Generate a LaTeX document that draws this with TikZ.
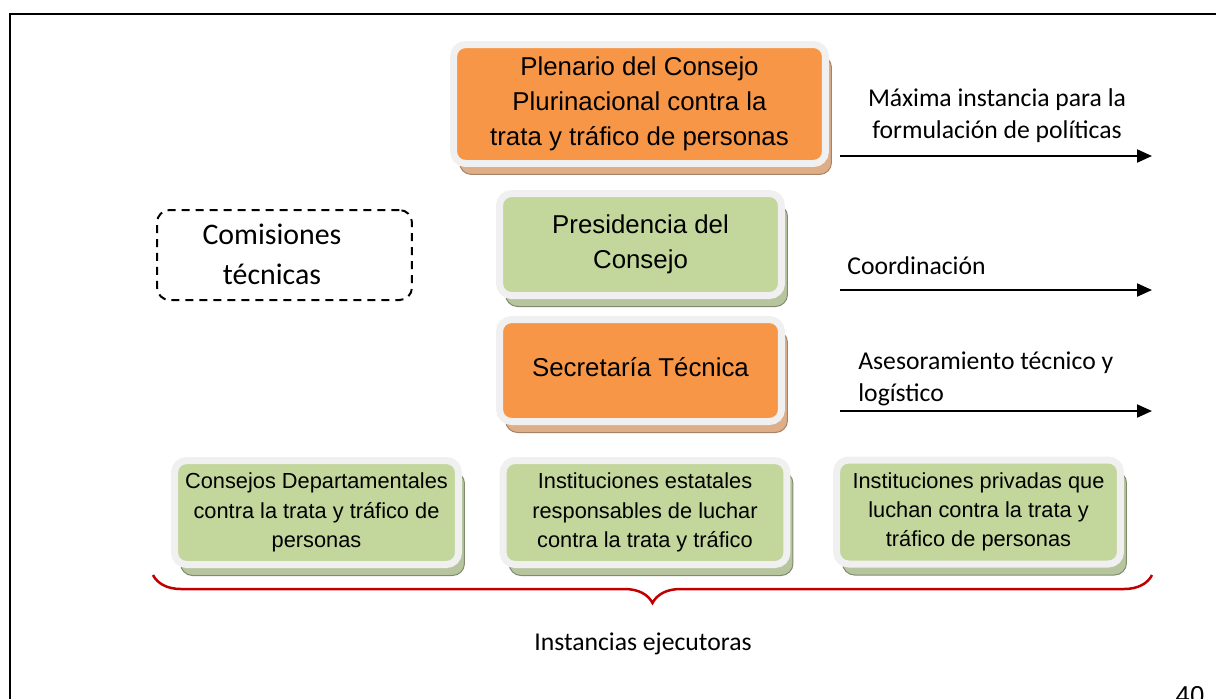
\documentclass[tikz,border=0pt]{standalone}
\usepackage{fontspec}
\setmainfont{Carlito}
\newfontfamily\arialfont{Liberation Sans}
\usetikzlibrary{shadows}
\usetikzlibrary{arrows.meta}
\usetikzlibrary{decorations.pathreplacing}

\definecolor{orangefill}{HTML}{F79646}
\definecolor{greenfill}{HTML}{C3D69B}
\definecolor{rimgray}{HTML}{F0F0F0}
\definecolor{orangeshade}{HTML}{DDAE88}
\definecolor{greenshade}{HTML}{B7C59E}
\definecolor{bracered}{HTML}{C00000}

\newcommand{\bigboxfont}{\arialfont\fontsize{14.7}{20}\selectfont}
\newcommand{\smallboxfont}{\arialfont\fontsize{12.4}{16.7}\selectfont}
\newcommand{\labelfont}{\fontsize{14.6}{18.1}\selectfont}

\tikzset{
    orgbox/.style={rectangle, rounded corners=0.24cm, draw=rimgray, line width=0.14cm, align=center, inner sep=0pt},
    orangebox/.style={orgbox, fill=orangefill, drop shadow={shadow xshift=0.12cm, shadow yshift=-0.22cm, opacity=1, fill=orangeshade, draw=orangeshade!75!black, line width=0.02cm}},
    greenbox/.style={orgbox, fill=greenfill, drop shadow={shadow xshift=0.12cm, shadow yshift=-0.22cm, opacity=1, fill=greenshade, draw=greenshade!70!black, line width=0.02cm}},
    bigbox/.style={minimum width=5.64cm, minimum height=2.04cm, font=\bigboxfont},
    smallbox/.style={minimum width=5.68cm, minimum height=2.08cm, font=\smallboxfont},
    lbl/.style={inner sep=0pt, font=\labelfont},
    arr/.style={line width=0.04cm, -{Triangle[length=0.3cm, width=0.26cm]}}
}

\begin{document}
\begin{tikzpicture}[x=0.02cm, y=-0.02cm]
    \useasboundingbox (0,0) rectangle (1216,698);
    \clip (0,0) rectangle (1216,698);

    \draw [line width=0.04cm] (10,720) -- (10,14) -- (1240,14);
    \node [inner sep=0pt, font=\bigboxfont] (pagenum) at (1190,696) {40};

    \node [orangebox, font=\bigboxfont, minimum width=7.44cm, minimum height=2.38cm] (plenario) at (639.5,104) {Plenario del Consejo\\Plurinacional contra la\\trata y tráfico de personas};
    \node [greenbox, bigbox] (presidencia) at (640.5,244.5) {Presidencia del\\Consejo};
    \node [orangebox, bigbox] (secretaria) at (640.5,370.5) {\raisebox{0.14cm}{Secretaría Técnica}};

    \node [greenbox, smallbox] (departamentales) at (316.5,512.5) {Consejos Departamentales\\contra la trata y tráfico de\\personas};
    \node [greenbox, smallbox] (estatales) at (645,512.5) {Instituciones estatales\\responsables de luchar\\contra la trata y tráfico};
    \node [greenbox, smallbox] (privadas) at (978.5,512) {Instituciones privadas que\\luchan contra la trata y\\tráfico de personas};

    \node [rectangle, draw, dashed, dash pattern=on 0.16cm off 0.12cm, line width=0.04cm, rounded corners=0.25cm, minimum width=5.1cm, minimum height=1.8cm] (comisionesbox) at (284.5,255) {};
    \node [lbl, align=center, font=\fontsize{17}{22.7}\selectfont] (comisiones) at (272,254) {Comisiones\\técnicas};

    \coordinate (politicasstart) at (840,156);
    \coordinate (politicasend) at (1152,156);
    \coordinate (coordstart) at (840,290);
    \coordinate (coordend) at (1152,290);
    \coordinate (asesorstart) at (840,411);
    \coordinate (asesorend) at (1152,411);

    \draw [arr] (politicasstart) -- (politicasend);
    \draw [arr] (coordstart) -- (coordend);
    \draw [arr] (asesorstart) -- (asesorend);

    \node [lbl, align=center] (politicas) at (997,116) {Máxima instancia para la\\formulación de políticas};
    \node [lbl, anchor=west] (coordinacion) at (847,266) {Coordinación};
    \node [lbl, anchor=west, align=left] (asesoramiento) at (858,379) {Asesoramiento técnico y\\logístico};

    \coordinate (bracestart) at (1152,575);
    \coordinate (braceend) at (153,575);
    \draw [bracered, line width=0.05cm, decorate, decoration={brace, amplitude=0.56cm}] (bracestart) -- (braceend);
    \node [lbl] (ejecutoras) at (643,644) {Instancias ejecutoras};
\end{tikzpicture}
\end{document}
